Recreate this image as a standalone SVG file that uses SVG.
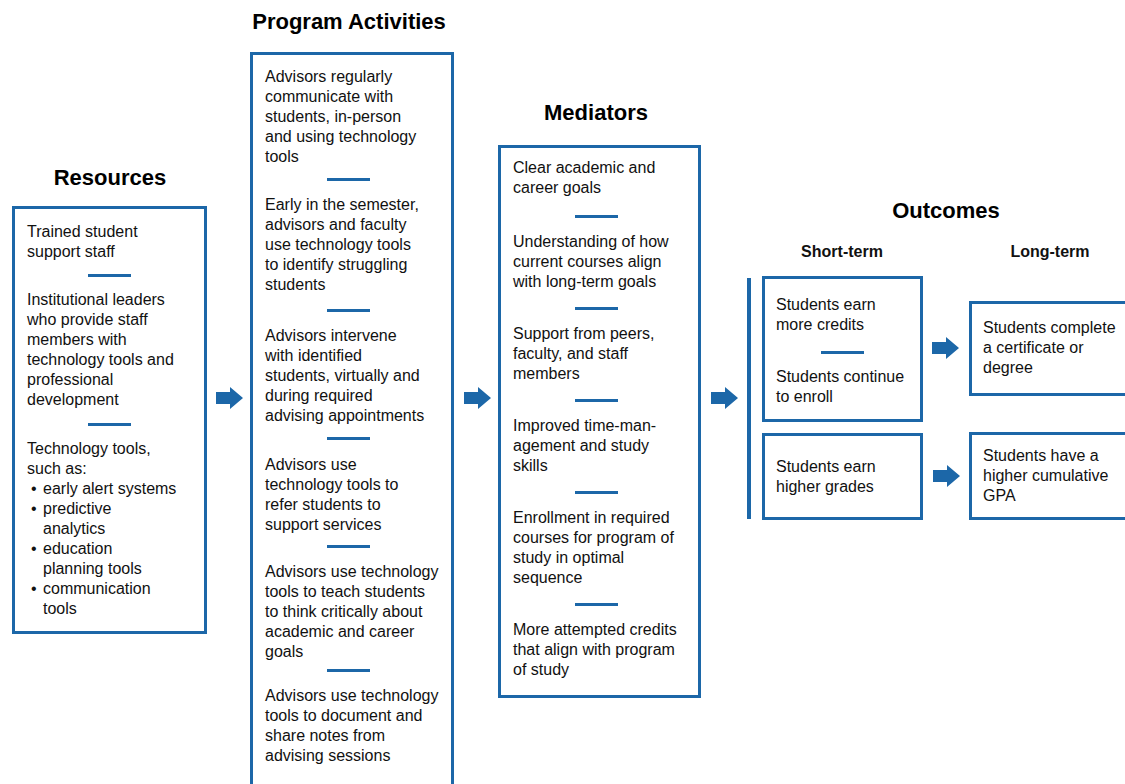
<svg xmlns="http://www.w3.org/2000/svg" width="1125" height="784" viewBox="0 0 1125 784">
<style>
.box{fill:#fff;stroke:#1c67a8;stroke-width:3}
.sep{stroke:#1c67a8;stroke-width:3}
.t{font-family:"Liberation Sans",Arial,sans-serif;font-size:16px;fill:#111}
.h{font-family:"Liberation Sans",Arial,sans-serif;font-size:22px;font-weight:bold;fill:#000;text-anchor:middle}
.s{font-family:"Liberation Sans",Arial,sans-serif;font-size:16px;font-weight:bold;fill:#111;text-anchor:middle}
.arr{fill:#1c67a8}
</style>
<defs>
<path id="ba" d="M0,-6 L14,-6 L14,-11 L27,0 L14,11 L14,6 L0,6 Z"/>
</defs>
<rect width="1125" height="784" fill="#fff"/>

<g id="resources">
<text class="h" x="110" y="185">Resources</text>
<rect class="box" x="13.5" y="207.5" width="192" height="425"/>
<text class="t" x="27" y="237">Trained student</text>
<text class="t" x="27" y="257">support staff</text>
<line class="sep" x1="88" y1="275.5" x2="131" y2="275.5"/>
<text class="t" x="27" y="305">Institutional leaders</text>
<text class="t" x="27" y="325">who provide staff</text>
<text class="t" x="27" y="345">members with</text>
<text class="t" x="27" y="365">technology tools and</text>
<text class="t" x="27" y="385">professional</text>
<text class="t" x="27" y="405">development</text>
<line class="sep" x1="88" y1="424.5" x2="131" y2="424.5"/>
<text class="t" x="27" y="454">Technology tools,</text>
<text class="t" x="27" y="474">such as:</text>
<text class="t" x="31" y="494">•</text><text class="t" x="43" y="494">early alert systems</text>
<text class="t" x="31" y="514">•</text><text class="t" x="43" y="514">predictive</text>
<text class="t" x="43" y="534">analytics</text>
<text class="t" x="31" y="554">•</text><text class="t" x="43" y="554">education</text>
<text class="t" x="43" y="574">planning tools</text>
<text class="t" x="31" y="594">•</text><text class="t" x="43" y="594">communication</text>
<text class="t" x="43" y="614">tools</text>
</g>

<g id="activities">
<text class="h" x="349" y="29">Program Activities</text>
<rect class="box" x="251.5" y="53.5" width="201" height="760"/>
<text class="t" x="265" y="82">Advisors regularly</text>
<text class="t" x="265" y="102">communicate with</text>
<text class="t" x="265" y="122">students, in-person</text>
<text class="t" x="265" y="142">and using technology</text>
<text class="t" x="265" y="162">tools</text>
<line class="sep" x1="327" y1="179.5" x2="370" y2="179.5"/>
<text class="t" x="265" y="210">Early in the semester,</text>
<text class="t" x="265" y="230">advisors and faculty</text>
<text class="t" x="265" y="250">use technology tools</text>
<text class="t" x="265" y="270">to identify struggling</text>
<text class="t" x="265" y="290">students</text>
<line class="sep" x1="327" y1="310.5" x2="370" y2="310.5"/>
<text class="t" x="265" y="341">Advisors intervene</text>
<text class="t" x="265" y="361">with identified</text>
<text class="t" x="265" y="381">students, virtually and</text>
<text class="t" x="265" y="401">during required</text>
<text class="t" x="265" y="421">advising appointments</text>
<line class="sep" x1="327" y1="438.5" x2="370" y2="438.5"/>
<text class="t" x="265" y="470">Advisors use</text>
<text class="t" x="265" y="490">technology tools to</text>
<text class="t" x="265" y="510">refer students to</text>
<text class="t" x="265" y="530">support services</text>
<line class="sep" x1="327" y1="546.5" x2="370" y2="546.5"/>
<text class="t" x="265" y="577">Advisors use technology</text>
<text class="t" x="265" y="597">tools to teach students</text>
<text class="t" x="265" y="617">to think critically about</text>
<text class="t" x="265" y="637">academic and career</text>
<text class="t" x="265" y="657">goals</text>
<line class="sep" x1="327" y1="670.5" x2="370" y2="670.5"/>
<text class="t" x="265" y="701">Advisors use technology</text>
<text class="t" x="265" y="721">tools to document and</text>
<text class="t" x="265" y="741">share notes from</text>
<text class="t" x="265" y="761">advising sessions</text>
</g>

<g id="mediators">
<text class="h" x="596" y="120">Mediators</text>
<rect class="box" x="499.5" y="146.5" width="200" height="550"/>
<text class="t" x="513" y="173">Clear academic and</text>
<text class="t" x="513" y="193">career goals</text>
<line class="sep" x1="575" y1="216.5" x2="618" y2="216.5"/>
<text class="t" x="513" y="247">Understanding of how</text>
<text class="t" x="513" y="267">current courses align</text>
<text class="t" x="513" y="287">with long-term goals</text>
<line class="sep" x1="575" y1="308.5" x2="618" y2="308.5"/>
<text class="t" x="513" y="339">Support from peers,</text>
<text class="t" x="513" y="359">faculty, and staff</text>
<text class="t" x="513" y="379">members</text>
<line class="sep" x1="575" y1="400.5" x2="618" y2="400.5"/>
<text class="t" x="513" y="431">Improved time-man-</text>
<text class="t" x="513" y="451">agement and study</text>
<text class="t" x="513" y="471">skills</text>
<line class="sep" x1="575" y1="492.5" x2="618" y2="492.5"/>
<text class="t" x="513" y="523">Enrollment in required</text>
<text class="t" x="513" y="543">courses for program of</text>
<text class="t" x="513" y="563">study in optimal</text>
<text class="t" x="513" y="583">sequence</text>
<line class="sep" x1="575" y1="604.5" x2="618" y2="604.5"/>
<text class="t" x="513" y="635">More attempted credits</text>
<text class="t" x="513" y="655">that align with program</text>
<text class="t" x="513" y="675">of study</text>
</g>

<g id="outcomes">
<text class="h" x="946" y="218">Outcomes</text>
<text class="s" x="842" y="257">Short-term</text>
<text class="s" x="1050" y="257">Long-term</text>
<rect x="747" y="278" width="4" height="241" fill="#1c67a8"/>
</g>

<g id="st1">
<rect class="box" x="763.5" y="277.5" width="158" height="143"/>
<text class="t" x="776" y="310">Students earn</text>
<text class="t" x="776" y="330">more credits</text>
<line class="sep" x1="821" y1="352.5" x2="864" y2="352.5"/>
<text class="t" x="776" y="382">Students continue</text>
<text class="t" x="776" y="402">to enroll</text>
</g>
<g id="st2">
<rect class="box" x="763.5" y="434.5" width="158" height="84"/>
<text class="t" x="776" y="472">Students earn</text>
<text class="t" x="776" y="492">higher grades</text>
</g>
<g id="lt1">
<rect class="box" x="970.5" y="302.5" width="170" height="92"/>
<text class="t" x="983" y="333">Students complete</text>
<text class="t" x="983" y="353">a certificate or</text>
<text class="t" x="983" y="373">degree</text>
</g>
<g id="lt2">
<rect class="box" x="970.5" y="433.5" width="170" height="85"/>
<text class="t" x="983" y="461">Students have a</text>
<text class="t" x="983" y="481">higher cumulative</text>
<text class="t" x="983" y="501">GPA</text>
</g>

<g id="connectors" class="arr">
<use href="#ba" x="216" y="398"/>
<use href="#ba" x="464" y="398"/>
<use href="#ba" x="711" y="398"/>
<use href="#ba" x="932" y="348"/>
<use href="#ba" x="933" y="476"/>
</g>
</svg>
